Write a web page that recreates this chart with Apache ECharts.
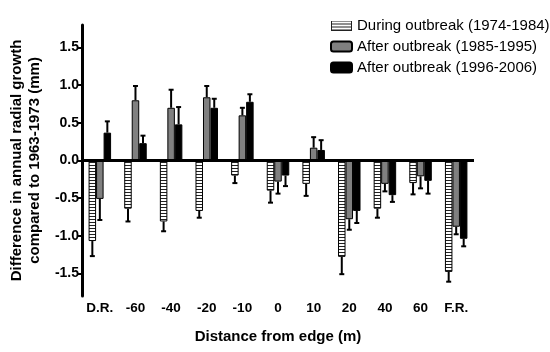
<!DOCTYPE html>
<html>
<head>
<meta charset="utf-8">
<script src="https://cdn.jsdelivr.net/npm/echarts@6/dist/echarts.min.js"></script>
<style>
  html, body { margin: 0; padding: 0; background: #fff; }
  #main { width: 550px; height: 352px; }
</style>
</head>
<body>
<div id="main"></div>
<script>
var categories = ['D.R.', '-60', '-40', '-20', '-10', '0', '10', '20', '40', '60', 'F.R.'];
var seriesNames = ['During outbreak (1974-1984)', 'After outbreak (1985-1995)', 'After outbreak (1996-2006)'];

// mean difference (mm)
var during = [-1.07, -0.64, -0.81, -0.67, -0.20, -0.40, -0.31, -1.28, -0.64, -0.30, -1.48];
var after1 = [-0.51, 0.80, 0.70, 0.84, 0.60, -0.28, 0.17, -0.78, -0.31, -0.21, -0.88];
var after2 = [0.37, 0.23, 0.48, 0.70, 0.78, -0.20, 0.14, -0.67, -0.46, -0.27, -1.04];

// error bars (one-sided, away from zero)
var duringErr = [0.20, 0.17, 0.13, 0.09, 0.10, 0.16, 0.16, 0.23, 0.12, 0.15, 0.13];
var after1Err = [0.28, 0.19, 0.24, 0.15, 0.10, 0.16, 0.14, 0.14, 0.10, 0.16, 0.10];
var after2Err = [0.15, 0.10, 0.23, 0.12, 0.10, 0.14, 0.13, 0.16, 0.09, 0.17, 0.10];

var yTicks = [-1.5, -1.0, -0.5, 0, 0.5, 1.0, 1.5];

var font = 'Liberation Sans, Arial, sans-serif';
var barW = 7.5;

// horizontal stripe fill for the bars
var stripe = document.createElement('canvas');
stripe.width = 4;
stripe.height = 3;
var sctx = stripe.getContext('2d');
sctx.fillStyle = '#fff';
sctx.fillRect(0, 0, 4, 3);
sctx.fillStyle = '#222';
sctx.fillRect(0, 0, 4, 1);

// legend icon for the striped series
var icon = document.createElement('canvas');
icon.width = 21;
icon.height = 10;
var ictx = icon.getContext('2d');
ictx.fillStyle = '#fff';
ictx.fillRect(0, 0, 21, 10);
ictx.fillStyle = '#222';
ictx.fillRect(0, 0, 21, 1);
ictx.fillRect(0, 3, 21, 1);
ictx.fillRect(0, 6, 21, 1);
ictx.fillRect(0, 9, 21, 1);
ictx.fillRect(0, 0, 1, 10);
ictx.fillRect(20, 0, 1, 10);

function errData(vals, errs) {
  return vals.map(function (v, i) { return [i, v, errs[i]]; });
}

function errSeries(vals, errs, k) {
  return {
    type: 'custom',
    silent: true,
    z: 5,
    data: errData(vals, errs),
    encode: { x: 0, y: 1 },
    renderItem: function (params, api) {
      var v = api.value(1);
      var e = api.value(2);
      var end = v >= 0 ? v + e : v - e;
      var p0 = api.coord([api.value(0), v]);
      var p1 = api.coord([api.value(0), end]);
      var x = p0[0] + (k - 1) * barW;
      var st = { stroke: '#000', lineWidth: 2 };
      return {
        type: 'group',
        children: [
          { type: 'line', shape: { x1: x, y1: p0[1], x2: x, y2: p1[1] }, style: st },
          { type: 'line', shape: { x1: x - 2.5, y1: p1[1], x2: x + 2.5, y2: p1[1] }, style: st }
        ]
      };
    }
  };
}

var chart = echarts.init(document.getElementById('main'));

chart.setOption({
  animation: false,
  backgroundColor: '#fff',
  textStyle: { fontFamily: font },
  legend: {
    orient: 'vertical',
    left: 325,
    top: 13,
    itemWidth: 21,
    itemHeight: 10,
    itemGap: 6,
    data: [
      { name: seriesNames[0], icon: 'image://' + icon.toDataURL() },
      { name: seriesNames[1] },
      { name: seriesNames[2] }
    ],
    textStyle: { fontSize: 15, color: '#000', fontFamily: font }
  },
  grid: { left: 74, right: 76, top: 25, bottom: 56 },
  xAxis: {
    type: 'category',
    data: categories,
    name: 'Distance from edge (m)',
    nameLocation: 'middle',
    nameGap: 33,
    nameTextStyle: { fontSize: 15, fontWeight: 'bold', color: '#000', fontFamily: font },
    axisLine: { show: false, onZero: false },
    axisTick: { show: false },
    axisLabel: { fontSize: 13.5, fontWeight: 'bold', color: '#000', margin: 5, fontFamily: font }
  },
  yAxis: {
    type: 'value',
    min: -1.8,
    max: 1.8,
    name: 'Difference in annual radial growth\ncompared to 1963-1973 (mm)',
    nameLocation: 'middle',
    nameGap: 38,
    nameTextStyle: { fontSize: 15, fontWeight: 'bold', color: '#000', lineHeight: 18, fontFamily: font },
    axisLine: { show: true, lineStyle: { color: '#000', width: 3 } },
    axisTick: { show: true, length: 5, lineStyle: { color: '#000', width: 2 }, customValues: yTicks },
    axisLabel: {
      fontSize: 14, fontWeight: 'bold', color: '#000', margin: 3, fontFamily: font,
      customValues: yTicks,
      formatter: function (v) { return v.toFixed(1); }
    },
    splitLine: { show: false }
  },
  series: [
    {
      name: seriesNames[0],
      type: 'bar',
      data: during,
      barWidth: barW,
      barGap: '0%',
      itemStyle: { color: { image: stripe, repeat: 'repeat' }, borderColor: '#000', borderWidth: 1 },
      markLine: {
        silent: true,
        symbol: 'none',
        label: { show: false },
        lineStyle: { color: '#000', width: 3, type: 'solid' },
        data: [{ yAxis: 0 }]
      }
    },
    {
      name: seriesNames[1],
      type: 'bar',
      data: after1,
      barWidth: barW,
      barGap: '0%',
      itemStyle: { color: '#808080', borderColor: '#000', borderWidth: 1 }
    },
    {
      name: seriesNames[2],
      type: 'bar',
      data: after2,
      barWidth: barW,
      barGap: '0%',
      itemStyle: { color: '#000', borderColor: '#000', borderWidth: 1 }
    },
    errSeries(during, duringErr, 0),
    errSeries(after1, after1Err, 1),
    errSeries(after2, after2Err, 2)
  ]
});
</script>
</body>
</html>
